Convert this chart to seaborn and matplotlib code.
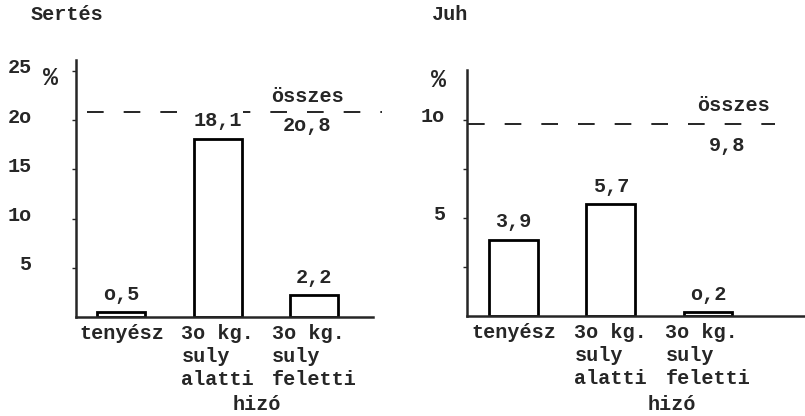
import numpy as np
import matplotlib
matplotlib.use("Agg")
import matplotlib.pyplot as plt
import matplotlib.transforms as mtransforms
import seaborn as sns

# ---- data ----
categories = ["tenyész", "3o kg.\nsuly\nalatti", "3o kg.\nsuly\nfeletti"]
pig_values = [0.5, 18.1, 2.2]
pig_labels = ["o,5", "18,1", "2,2"]
pig_total = 20.8
pig_total_label = "2o,8"
sheep_values = [3.9, 5.7, 0.2]
sheep_labels = ["3,9", "5,7", "o,2"]
sheep_total = 9.8
sheep_total_label = "9,8"
pig_yticks = [5, 10, 15, 20, 25]
pig_yticklabels = ["5", "1o", "15", "2o", "25"]
sheep_yticks = [2.5, 5, 7.5, 10]
sheep_yticklabels = ["", "5", "", "1o"]

FS = 14.5

sns.set_style("ticks")
plt.rcParams["font.family"] = ["Liberation Mono", "DejaVu Sans Mono"]
plt.rcParams["font.size"] = FS
plt.rcParams["font.weight"] = "bold"

W, H = 805, 416
fig = plt.figure(figsize=(W / 100, H / 100), dpi=100)

def px_axes(x0, x1, ybase, ytop):
    return fig.add_axes([x0 / W, (H - ybase) / H, (x1 - x0) / W, (ybase - ytop) / H])

ax1 = px_axes(76, 373, 317, 60)
ax2 = px_axes(467, 805, 316, 70)

def draw_panel(ax, values, labels, yticks, yticklabels, ylim, xlim, ypad):
    sns.barplot(x=categories, y=values, color="white", edgecolor="black",
                linewidth=2, width=0.5, ax=ax, saturation=1)
    ax.set_xlim(*xlim)
    ax.set_ylim(0, ylim)
    sns.despine(ax=ax)
    for s in ("left", "bottom"):
        ax.spines[s].set_linewidth(1.8)
    ax.set_yticks(yticks)
    ax.set_yticklabels(yticklabels)
    ax.tick_params(axis="y", length=3, width=1, pad=ypad, labelsize=FS)
    ax.tick_params(axis="x", length=0, pad=5, labelsize=FS)
    for lab in ax.get_xticklabels():
        lab.set_multialignment("left")
        lab.set_linespacing(1.27)
    ax.set_xlabel("")
    ax.set_ylabel("")
    for i, (v, t) in enumerate(zip(values, labels)):
        ax.annotate(t, xy=(i, v), xytext=(0, 18), textcoords="offset pixels",
                    ha="center", va="center", fontsize=FS,
                    bbox=dict(fc="white", ec="none", pad=1))

draw_panel(ax1, pig_values, pig_labels, pig_yticks, pig_yticklabels,
           26.1, (-0.47, 2.61), 29)
draw_panel(ax2, sheep_values, sheep_labels, sheep_yticks, sheep_yticklabels,
           12.55, (-0.48, 3.0), 13)

# typewritten y labels sit a little above their tick marks
shift = mtransforms.ScaledTranslation(0, 5 / 100, fig.dpi_scale_trans)
for ax in (ax1, ax2):
    for lab in ax.get_yticklabels():
        lab.set_transform(lab.get_transform() + shift)

# total (összes) dashed lines
ax1.plot([-0.36, 2.70], [pig_total, pig_total], color="black", lw=1.2,
         dashes=(10, 12), clip_on=False, zorder=1)
ax1.annotate("összes", xy=(1.93, pig_total), xytext=(0, 16), textcoords="offset pixels",
             ha="center", va="center", fontsize=FS)
ax1.annotate(pig_total_label, xy=(1.93, pig_total), xytext=(0, -13), textcoords="offset pixels",
             ha="center", va="center", fontsize=FS)

ax2.plot([-0.47, 2.69], [sheep_total, sheep_total], color="black", lw=1.2,
         dashes=(10, 12), clip_on=False, zorder=1)
ax2.annotate("összes", xy=(2.26, sheep_total), xytext=(0, 18), textcoords="offset pixels",
             ha="center", va="center", fontsize=FS)
ax2.annotate(sheep_total_label, xy=(2.2, sheep_total), xytext=(0, -22), textcoords="offset pixels",
             ha="center", va="center", fontsize=FS)

# unit signs
ax1.text(-0.0875, 0.93, "%", transform=ax1.transAxes, ha="center", va="center",
         fontsize=18, fontweight="bold")
ax2.text(-0.083, 0.959, "%", transform=ax2.transAxes, ha="center", va="center",
         fontsize=18, fontweight="bold")

# group label under the fattening categories
ax1.annotate("hizó", xy=(1.41, 0), xytext=(0, -88), textcoords="offset pixels",
             ha="center", va="center", fontsize=FS)
ax2.annotate("hizó", xy=(1.63, 0), xytext=(0, -89), textcoords="offset pixels",
             ha="center", va="center", fontsize=FS)

# panel titles
fig.text(31 / W, 1 - 14 / H, "Sertés", ha="left", va="center", fontsize=FS)
fig.text(432 / W, 1 - 14 / H, "Juh", ha="left", va="center", fontsize=FS)

fig.savefig("out.png", dpi=100, facecolor="white")
